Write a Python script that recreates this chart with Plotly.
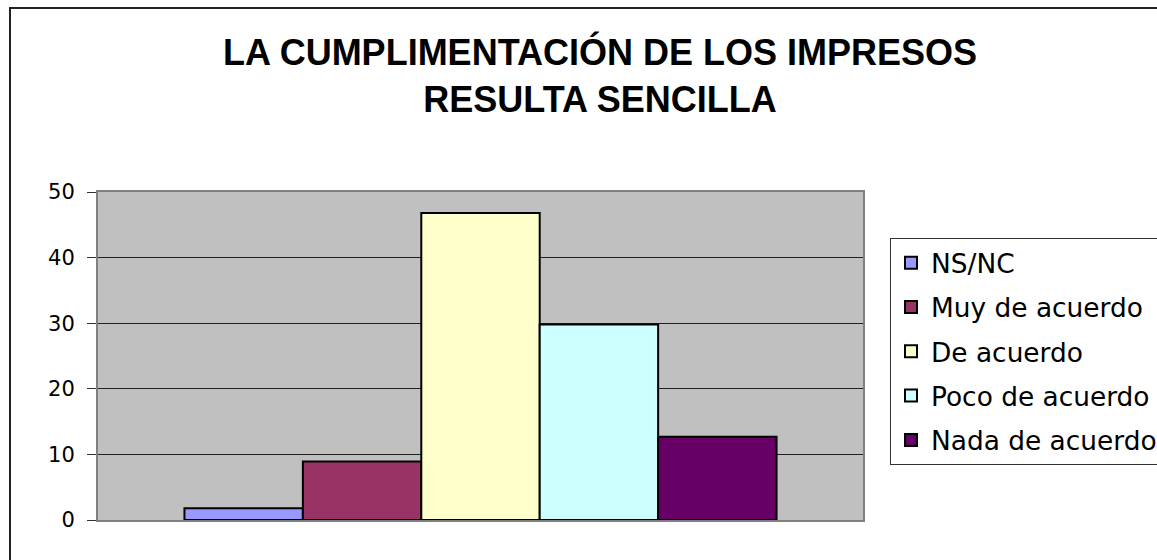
import plotly.graph_objects as go

title_lines = ["LA CUMPLIMENTACIÓN DE LOS IMPRESOS", "RESULTA SENCILLA"]
category = [""]
series_names = ["NS/NC", "Muy de acuerdo", "De acuerdo", "Poco de acuerdo", "Nada de acuerdo"]
series_values = [1.8, 8.9, 46.8, 29.8, 12.7]
series_colors = ["#9999FF", "#993366", "#FFFFCC", "#CCFFFF", "#660066"]
y_ticks = [0, 10, 20, 30, 40, 50]

W, H = 1157, 560
L, R, T, B = 98, 863, 192, 520  # plot area in pixels

fig = go.Figure()
for i, (name, val, col) in enumerate(zip(series_names, series_values, series_colors)):
    fig.add_trace(go.Bar(
        x=category, y=[val], name=name, legendgroup=f"g{i}",
        marker=dict(color=col, line=dict(color="#000000", width=2)),
    ))

def px_x(p):
    return (p - L) / (R - L)

def px_y(p):
    return (B - p) / (B - T)

fig.update_layout(
    width=W, height=H,
    margin=dict(l=L, r=W - R, t=T, b=H - B, autoexpand=False),
    paper_bgcolor="white",
    plot_bgcolor="#C0C0C0",
    barmode="group",
    bargap=0.226,
    bargroupgap=0,
    title=dict(
        text="<br>".join(title_lines),
        x=600 / W, xref="container", xanchor="center",
        y=1 - 65 / H, yref="container", yanchor="top",
        font=dict(family="Liberation Sans, Arial, sans-serif", size=36, color="#000000", weight="bold"),
    ),
    legend=dict(
        x=px_x(890), y=px_y(238), xanchor="left", yanchor="top",
        bordercolor="#333333", borderwidth=1, bgcolor="white",
        font=dict(family="DejaVu Sans, sans-serif", size=26.4, color="#000000"),
        traceorder="grouped", tracegroupgap=7,
    ),
    showlegend=True,
)

fig.update_xaxes(
    showticklabels=False, ticks="", showgrid=False,
    showline=True, linecolor="#808080", linewidth=2, mirror=True,
)
fig.update_yaxes(
    range=[0, 50], tickvals=y_ticks,
    ticks="outside", ticklen=9, tickcolor="#333333", tickwidth=1,
    ticklabelstandoff=8,
    tickfont=dict(family="DejaVu Sans, sans-serif", size=21, color="#000000"),
    showgrid=True, gridcolor="#222222", gridwidth=1,
    zeroline=False,
    showline=True, linecolor="#808080", linewidth=2, mirror=True,
)

# outer chart border
fig.add_shape(
    type="rect", xref="paper", yref="paper",
    x0=px_x(10), x1=px_x(1170), y0=px_y(575), y1=px_y(8),
    line=dict(color="#222222", width=2), fillcolor="rgba(0,0,0,0)", layer="above",
)

fig.write_html("out.html", config={"displayModeBar": False},
               post_script="document.body.style.margin='0';")
